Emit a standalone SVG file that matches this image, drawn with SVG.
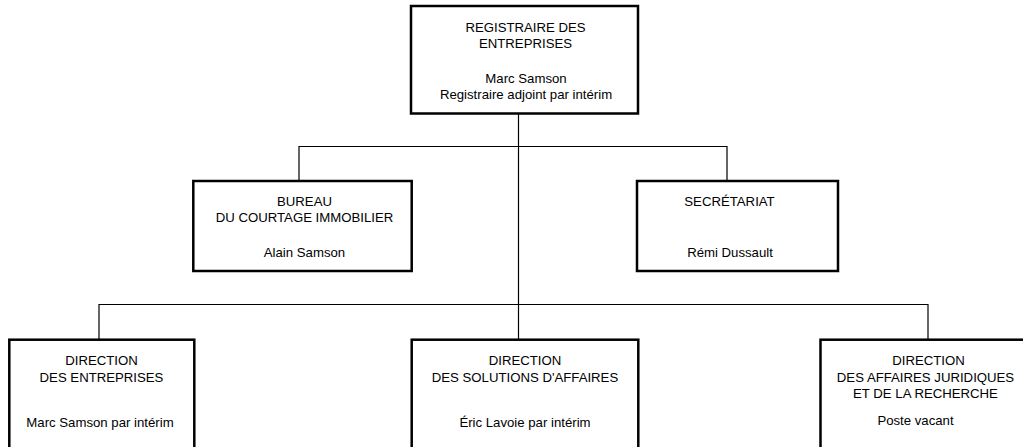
<svg xmlns="http://www.w3.org/2000/svg" width="1023" height="447" viewBox="0 0 1023 447">
<style>
.box{fill:#fff;stroke:#000;stroke-width:2.5}
.ln{fill:none;stroke:#000;stroke-width:1.2}
text{font-family:"Liberation Sans",Arial,sans-serif;font-size:13.2px;fill:#000;text-anchor:middle}
</style>
<rect width="1023" height="447" fill="#fff"/>
<g id="connectors">
<path class="ln" d="M518.5 113.5V340"/>
<path class="ln" d="M299 181V146.5H727V181"/>
<path class="ln" d="M99 340V304.5H928V340"/>
</g>
<g id="registraire">
<rect class="box" x="411" y="6" width="227" height="107.5"/>
<text x="525.5" y="31.5">REGISTRAIRE DES</text>
<text x="525.5" y="48">ENTREPRISES</text>
<text x="526" y="83">Marc Samson</text>
<text x="526" y="98.5">Registraire adjoint par intérim</text>
</g>
<g id="bureau">
<rect class="box" x="193.3" y="181" width="218.4" height="90"/>
<text x="304.5" y="205.7">BUREAU</text>
<text x="304.5" y="222.3">DU COURTAGE IMMOBILIER</text>
<text x="304.5" y="256.7">Alain Samson</text>
</g>
<g id="secretariat">
<rect class="box" x="637" y="181" width="201" height="90"/>
<text x="729.5" y="205.7">SECRÉTARIAT</text>
<text x="730" y="256.7">Rémi Dussault</text>
</g>
<g id="dir-entreprises">
<rect class="box" x="9.3" y="339.7" width="185" height="120"/>
<text x="101.5" y="365">DIRECTION</text>
<text x="101.5" y="381.7">DES ENTREPRISES</text>
<text x="100" y="426.7">Marc Samson par intérim</text>
</g>
<g id="dir-solutions">
<rect class="box" x="411.7" y="339.7" width="226.6" height="120"/>
<text x="525" y="365">DIRECTION</text>
<text x="525" y="381.7">DES SOLUTIONS D'AFFAIRES</text>
<text x="525" y="426.7">Éric Lavoie par intérim</text>
</g>
<g id="dir-juridiques">
<rect class="box" x="820.5" y="339.7" width="210" height="120"/>
<text x="928.5" y="365">DIRECTION</text>
<text x="925.5" y="381.7">DES AFFAIRES JURIDIQUES</text>
<text x="925.5" y="398.3">ET DE LA RECHERCHE</text>
<text x="915.5" y="425">Poste vacant</text>
</g>
</svg>
